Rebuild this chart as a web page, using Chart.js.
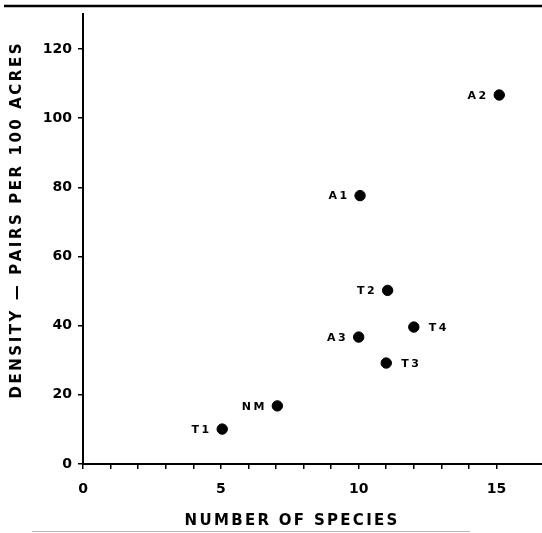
<!DOCTYPE html>
<html>
<head>
<meta charset="utf-8">
<script src="https://cdn.jsdelivr.net/npm/chart.js@4"></script>
<style>
  html, body { margin: 0; padding: 0; background: #fff; }
  #wrap { width: 542px; height: 533px; position: relative; }
</style>
</head>
<body>
<div id="wrap"><canvas id="c" width="542" height="533"></canvas></div>
<script>
// ---- data ----
const categories = ['A2', 'A1', 'T2', 'T4', 'A3', 'T3', 'NM', 'T1'];
const speciesCounts = [15.1, 10.05, 11.05, 12.0, 10.0, 11.0, 7.05, 5.05];
const densities = [106.7, 77.6, 50.2, 39.6, 36.7, 29.2, 16.8, 10.1];
const xTickLabels = [0, 5, 10, 15];
const yTickLabels = [0, 20, 40, 60, 80, 100, 120];
const xTitle = 'NUMBER OF SPECIES';
const yTitle = 'DENSITY — PAIRS PER 100 ACRES';

// label placement (style, not data)
const rightSideLabels = ['T4', 'T3'];

const FONT = '"DejaVu Sans", "Liberation Sans", sans-serif';

function drawSpaced(ctx, text, x, y, spacing, align) {
  let total = 0;
  const widths = [];
  for (const ch of text) { const w = ctx.measureText(ch).width; widths.push(w); total += w; }
  total += spacing * (widths.length - 1);
  let sx = x;
  if (align === 'right') sx = x - total;
  else if (align === 'center') sx = x - total / 2;
  let i = 0;
  ctx.textAlign = 'left';
  for (const ch of text) { ctx.fillText(ch, sx, y); sx += widths[i++] + spacing; }
}

const decorPlugin = {
  id: 'decor',
  beforeDraw(chart) {
    const ctx = chart.ctx;
    ctx.save();
    ctx.fillStyle = '#fff';
    ctx.fillRect(0, 0, chart.width, chart.height);
    ctx.restore();
  },
  afterDraw(chart) {
    const ctx = chart.ctx;
    ctx.save();
    // scan edge lines
    ctx.strokeStyle = '#000';
    ctx.lineWidth = 2.5;
    ctx.beginPath(); ctx.moveTo(4, 6); ctx.lineTo(542, 6); ctx.stroke();
    ctx.strokeStyle = '#bbb';
    ctx.lineWidth = 1;
    ctx.beginPath(); ctx.moveTo(32, 531.5); ctx.lineTo(470, 531.5); ctx.stroke();

    // point labels
    const meta = chart.getDatasetMeta(0);
    ctx.fillStyle = '#000';
    ctx.font = 'bold 11px ' + FONT;
    ctx.textBaseline = 'middle';
    meta.data.forEach((pt, i) => {
      const name = categories[i];
      if (rightSideLabels.includes(name)) drawSpaced(ctx, name, pt.x + 15, pt.y + 1, 2.5, 'left');
      else drawSpaced(ctx, name, pt.x - 13, pt.y + 1, 2.5, 'right');
    });

    // axis titles
    ctx.font = 'bold 15px ' + FONT;
    ctx.textBaseline = 'middle';
    drawSpaced(ctx, xTitle, 291, 521, 2.3, 'center');
    ctx.translate(17, 221);
    ctx.rotate(-Math.PI / 2);
    drawSpaced(ctx, yTitle, 0, 0, 2.55, 'center');
    ctx.restore();
  }
};

new Chart(document.getElementById('c'), {
  type: 'scatter',
  data: {
    datasets: [{
      data: speciesCounts.map((x, i) => ({ x: x, y: densities[i] })),
      backgroundColor: '#000',
      borderColor: '#000',
      pointRadius: 5.2,
      pointHoverRadius: 5.2
    }]
  },
  options: {
    responsive: false,
    animation: false,
    events: [],
    layout: { autoPadding: false, padding: { top: 12, right: 0, left: 0, bottom: 0 } },
    plugins: { legend: { display: false }, tooltip: { enabled: false } },
    scales: {
      x: {
        type: 'linear',
        min: 0,
        max: 16.65,
        afterFit(s) { s.height = 69; s.paddingLeft = 0; s.paddingRight = 0; },
        afterBuildTicks(s) {
          const t = [];
          for (let v = 0; v <= 15; v++) t.push({ value: v });
          s.ticks = t;
        },
        ticks: {
          autoSkip: false,
          maxRotation: 0,
          color: '#000',
          padding: 12,
          font: { family: FONT, size: 14, weight: 'bold' },
          callback: (v) => xTickLabels.includes(v) ? String(v) : ''
        },
        grid: { drawOnChartArea: false, tickLength: 5, color: '#000', lineWidth: 1.5 },
        border: { display: true, color: '#000', width: 2 }
      },
      y: {
        type: 'linear',
        min: 0,
        max: 130,
        afterFit(s) { s.width = 83; },
        afterBuildTicks(s) {
          s.ticks = yTickLabels.map(v => ({ value: v }));
        },
        ticks: {
          autoSkip: false,
          color: '#000',
          padding: 6,
          font: { family: FONT, size: 14, weight: 'bold' },
          callback: (v) => String(v)
        },
        grid: { drawOnChartArea: false, tickLength: 5, color: '#000', lineWidth: 1.5 },
        border: { display: true, color: '#000', width: 2 }
      }
    }
  },
  plugins: [decorPlugin]
});
</script>
</body>
</html>
